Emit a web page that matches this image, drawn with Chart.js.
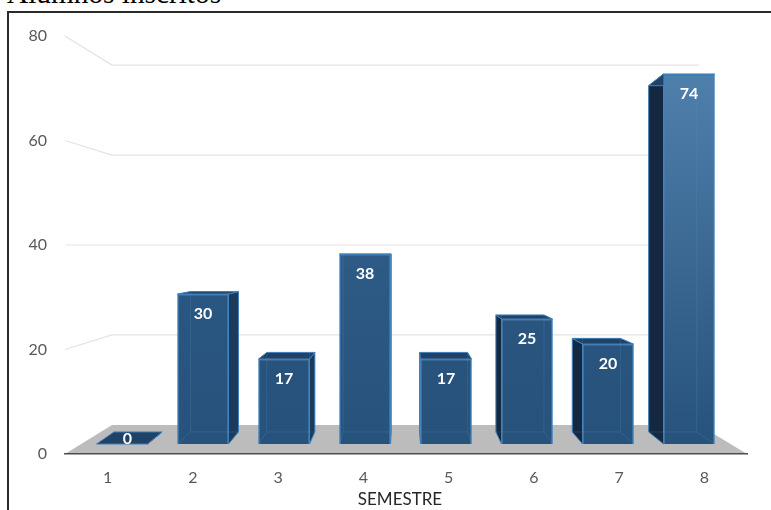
<!DOCTYPE html>
<html>
<head>
<meta charset="utf-8">
<script src="https://cdn.jsdelivr.net/npm/chart.js@4"></script>
<style>
  html, body { margin: 0; padding: 0; background: #fff; }
  #page { position: relative; width: 771px; height: 510px; overflow: hidden; }
  #heading { position: absolute; left: 7px; top: -23px; font: 29.3px "Liberation Serif", serif; color: #000; white-space: nowrap; }
  #frame { position: absolute; left: 7px; top: 11px; width: 780px; height: 520px; border-left: 2px solid #2a2a2a; border-top: 2px solid #2a2a2a; box-sizing: border-box; }
  canvas { position: absolute; left: 0; top: 0; }
</style>
</head>
<body>
<div id="page">
  <div id="heading">Alumnos inscritos</div>
  <div id="frame"></div>
  <canvas id="chart" width="771" height="510"></canvas>
</div>
<script>
const semesters = ['1', '2', '3', '4', '5', '6', '7', '8'];
const students = [0, 30, 17, 38, 17, 25, 20, 74];
const axisMax = 80;
const axisStep = 20;
const axisName = 'SEMESTRE';

// Perspective of the room: the back wall shrinks towards the vanishing point.
const wallDepth = { fx: 0.861, fy: 0.861, vx: 403, vy: 245 };
// Perspective of a column: distance from its front face to its back face.
const barDepth = { fx: 0.943, fy: 0.936, vx: 403, vy: 256 };
const project = (d, x, y) => [d.vx + d.fx * (x - d.vx), d.vy + d.fy * (y - d.vy)];

function polygon(ctx, points, fill, stroke, lineWidth) {
  ctx.beginPath();
  points.forEach((p, i) => i ? ctx.lineTo(p[0], p[1]) : ctx.moveTo(p[0], p[1]));
  ctx.closePath();
  if (fill) { ctx.fillStyle = fill; ctx.fill(); }
  if (stroke) { ctx.strokeStyle = stroke; ctx.lineWidth = lineWidth || 1; ctx.stroke(); }
}

// Floor and receding grid lines, taken from the ticks of the visible value axis.
const room = {
  id: 'room',
  beforeDraw(chart) {
    const { ctx, scales } = chart;
    const y = scales.y, left = scales.x.left, right = scales.x.right, zero = y.getPixelForValue(0);
    ctx.save();
    polygon(ctx, [[left, zero], [right, zero], project(wallDepth, right, zero), project(wallDepth, left, zero)], '#bcbcbc');
    ctx.strokeStyle = '#e3e3e3';
    ctx.lineWidth = 1.2;
    y.ticks.forEach(t => {
      if (t.value === 0) return;
      const py = y.getPixelForValue(t.value);
      const a = project(wallDepth, left, py), b = project(wallDepth, right, py);
      ctx.beginPath();
      ctx.moveTo(left, py);
      ctx.lineTo(a[0], a[1]);
      ctx.lineTo(b[0], b[1]);
      ctx.stroke();
    });
    ctx.restore();
  },
  afterDraw(chart) {
    // Axis caption, centred under the columns rather than under the axis.
    const { ctx } = chart;
    ctx.save();
    ctx.font = '17px Lato, sans-serif';
    ctx.fillStyle = '#262626';
    ctx.textAlign = 'center';
    ctx.textBaseline = 'middle';
    ctx.fillText(axisName, 400, 500);
    ctx.restore();
  }
};

const edgeBlue = '#3f7fba';

// Side and top faces of each column, placed behind the library's own bar.
const columns = {
  id: 'columns',
  beforeDatasetsDraw(chart) {
    const { ctx } = chart;
    ctx.save();
    ctx.lineJoin = 'round';
    chart.getDatasetMeta(0).data.forEach(bar => {
      const l = bar.x - bar.width / 2, r = bar.x + bar.width / 2, t = bar.y, b = bar.base;
      const tl = project(barDepth, l, t), tr = project(barDepth, r, t);
      const bl = project(barDepth, l, b), br = project(barDepth, r, b);
      if (tr[0] > r + 0.5) polygon(ctx, [[r, t], tr, br, [r, b]], '#1c3b5b', edgeBlue, 1);
      if (tl[0] < l - 0.5) polygon(ctx, [[l, t], tl, bl, [l, b]], '#14293f', edgeBlue, 1);
      polygon(ctx, [[l, t], [r, t], tr, tl], '#1f4266', edgeBlue, 1);
    });
    ctx.restore();
  },
  afterDatasetsDraw(chart) {
    const { ctx } = chart;
    ctx.save();
    chart.getDatasetMeta(0).data.forEach((bar, i) => {
      const l = bar.x - bar.width / 2, r = bar.x + bar.width / 2, t = bar.y, b = bar.base;
      const tl = project(barDepth, l, t), tr = project(barDepth, r, t);
      const bl = project(barDepth, l, b), br = project(barDepth, r, b);
      // Hidden edges seen faintly through the translucent front face.
      if (students[i] > 0) {
        ctx.strokeStyle = 'rgba(90,150,205,0.22)';
        ctx.lineWidth = 1;
        ctx.beginPath();
        ctx.moveTo(Math.max(tl[0], l), tl[1]); ctx.lineTo(Math.max(bl[0], l), bl[1]);
        ctx.moveTo(Math.min(tr[0], r), tr[1]); ctx.lineTo(Math.min(br[0], r), br[1]);
        ctx.moveTo(bl[0], bl[1]); ctx.lineTo(br[0], br[1]);
        ctx.moveTo(l, b); ctx.lineTo(bl[0], bl[1]);
        ctx.moveTo(r, b); ctx.lineTo(br[0], br[1]);
        ctx.stroke();
      }
      // Value label: inside the front face, or centred on the flat top of an empty column.
      const lx = students[i] > 0 ? bar.x : (l + tr[0]) / 2 - 2;
      const ly = students[i] > 0 ? t + 20 : (t + tr[1]) / 2 + 1;
      ctx.font = 'bold 16px Lato, sans-serif';
      ctx.textAlign = 'center';
      ctx.textBaseline = 'middle';
      ctx.fillStyle = '#fff';
      ctx.fillText(String(students[i]), lx, ly);
    });
    ctx.restore();
  }
};

// Front face: dark at the foot, lightening towards the top the taller the column is.
const footColor = [38, 82, 124];
const peakColor = [79, 127, 171];
const footFill = 'rgb(' + footColor.join(',') + ')';
function faceFill(context) {
  const { chart, parsed } = context;
  const scale = chart.scales.yColumns;
  if (!parsed || !scale) return footFill;
  const top = scale.getPixelForValue(parsed.y), foot = scale.getPixelForValue(0);
  // The scale has no pixel range until the first layout has run.
  if (!Number.isFinite(top) || !Number.isFinite(foot) || foot - top < 1) return footFill;
  const share = Math.pow(Math.max(parsed.y, 0) / Math.max(...students), 2.5);
  const mix = footColor.map((c, i) => Math.round(c + (peakColor[i] - c) * share));
  const g = chart.ctx.createLinearGradient(0, top, 0, foot);
  g.addColorStop(0, 'rgb(' + mix.join(',') + ')');
  g.addColorStop(1, footFill);
  return g;
}

new Chart(document.getElementById('chart'), {
  type: 'bar',
  data: {
    labels: semesters,
    datasets: [{
      data: students,
      xAxisID: 'xColumns',
      yAxisID: 'yColumns',
      backgroundColor: faceFill,
      borderColor: edgeBlue,
      borderWidth: 1.5,
      barThickness: 51
    }]
  },
  plugins: [room, columns],
  options: {
    responsive: false,
    animation: false,
    layout: { padding: { left: 0, right: 24, top: 36, bottom: 0 } },
    plugins: { legend: { display: false }, title: { display: false }, tooltip: { enabled: false } },
    scales: {
      x: {
        type: 'category',
        position: 'bottom',
        grid: { display: false },
        border: { display: true, color: '#4d4d4d', width: 1.5 },
        ticks: { color: '#595959', font: { family: 'Lato', size: 16 }, padding: 6, maxRotation: 0 },
        afterFit(scale) { scale.height = 56; }
      },
      y: {
        type: 'linear',
        position: 'left',
        min: 0,
        max: axisMax,
        grid: { display: false },
        border: { display: false },
        ticks: { stepSize: axisStep, color: '#595959', font: { family: 'Lato', size: 16 }, padding: 10 },
        afterFit(scale) { scale.width = 65; }
      },
      // Columns stand slightly in front of the back wall, on their own hidden scales.
      xColumns: { type: 'linear', axis: 'x', display: false, offset: false, min: 0.296, max: 8.716, grid: { display: false } },
      yColumns: { type: 'linear', axis: 'y', display: false, min: -2, max: 81.6, grid: { display: false } }
    }
  }
});
</script>
</body>
</html>
